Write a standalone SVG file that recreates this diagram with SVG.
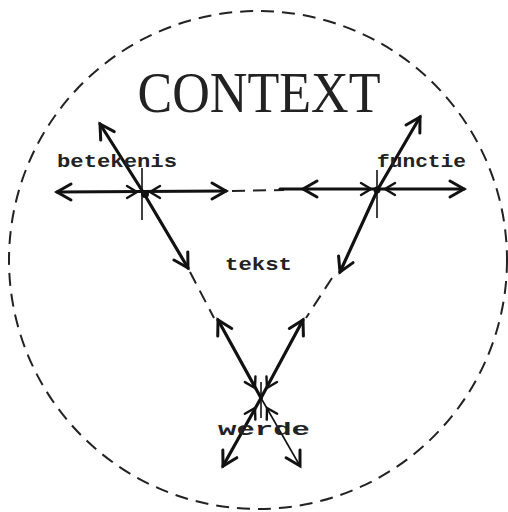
<svg xmlns="http://www.w3.org/2000/svg" xmlns:xlink="http://www.w3.org/1999/xlink" width="508" height="512" viewBox="0 0 508 512">
<style>
.ln{stroke:#111;stroke-width:3.2;fill:none;stroke-linecap:round}
.thin{stroke:#111;stroke-width:1.6;fill:none}
.dash{stroke:#222;stroke-width:2;fill:none;stroke-dasharray:13 8}
.lbl{font-family:"Liberation Mono",monospace;font-weight:bold;fill:#222;font-size:19px}
</style>
<defs>
<path id="ah" d="M-14,-8 L0,0 L-14,8" stroke="#111" stroke-width="3" fill="none" stroke-linecap="round" stroke-linejoin="miter"/>
<path id="ahs" d="M-10,-6 L0,0 L-10,6" stroke="#111" stroke-width="2.4" fill="none" stroke-linecap="round"/>
</defs>
<rect width="508" height="512" fill="#fff"/>
<circle cx="258" cy="260" r="249" class="dash"/>
<text x="259" y="112" text-anchor="middle" font-family="'Liberation Serif',serif" font-size="56" textLength="243" lengthAdjust="spacingAndGlyphs" fill="#222">CONTEXT</text>

<g id="connectors">
<line x1="232" y1="191" x2="284" y2="190" class="dash"/>
<line x1="190" y1="272" x2="214" y2="318" class="dash"/>
<line x1="332" y1="278" x2="306" y2="318" class="dash"/>
</g>

<g id="betekenis">
<line x1="57" y1="192" x2="226" y2="191" class="ln"/>
<line x1="143" y1="192" x2="100" y2="124" class="ln"/>
<line x1="143" y1="192" x2="188" y2="268" class="ln"/>
<line x1="142" y1="168" x2="142" y2="220" class="thin"/>
<circle cx="145" cy="194" r="4" fill="#111"/>
<use xlink:href="#ah" transform="translate(57,192) rotate(180)"/>
<use xlink:href="#ahs" transform="translate(137,192)"/>
<use xlink:href="#ahs" transform="translate(150,192) rotate(180)"/>
<use xlink:href="#ah" transform="translate(226,191)"/>
<use xlink:href="#ah" transform="translate(100,124) rotate(-122.3)"/>
<use xlink:href="#ah" transform="translate(188,268) rotate(59.4)"/>
<text class="lbl" x="57" y="167" textLength="120" lengthAdjust="spacingAndGlyphs">betekenis</text>
</g>

<g id="functie">
<line x1="280" y1="189" x2="464" y2="189" class="ln"/>
<line x1="378" y1="189" x2="420" y2="117" class="ln"/>
<line x1="378" y1="189" x2="340" y2="272" class="ln"/>
<line x1="377" y1="170" x2="377" y2="218" class="thin"/>
<circle cx="377" cy="190" r="3.5" fill="#111"/>
<use xlink:href="#ah" transform="translate(303,189) rotate(180)"/>
<use xlink:href="#ahs" transform="translate(371,189)"/>
<use xlink:href="#ahs" transform="translate(385,189) rotate(180)"/>
<use xlink:href="#ah" transform="translate(464,189)"/>
<use xlink:href="#ah" transform="translate(420,117) rotate(-59.7)"/>
<use xlink:href="#ah" transform="translate(340,272) rotate(114.6)"/>
<text class="lbl" x="377" y="167" textLength="89" lengthAdjust="spacingAndGlyphs">functie</text>
</g>

<g id="tekst">
<text class="lbl" x="225" y="270" textLength="67" lengthAdjust="spacingAndGlyphs">tekst</text>
</g>

<g id="werde">
<line x1="261" y1="398" x2="218" y2="320" class="ln"/>
<line x1="261" y1="398" x2="303" y2="320" class="ln" stroke-width="2.6"/>
<line x1="261" y1="398" x2="223" y2="466" class="ln"/>
<line x1="261" y1="398" x2="300" y2="466" class="thin"/>
<line x1="261" y1="382" x2="261" y2="418" class="thin"/>
<use xlink:href="#ah" transform="translate(218,320) rotate(-118.8)"/>
<use xlink:href="#ah" transform="translate(303,320) rotate(-61.7)"/>
<use xlink:href="#ah" transform="translate(223,466) rotate(119.2)"/>
<use xlink:href="#ah" transform="translate(300,466) rotate(60.2)"/>
<use xlink:href="#ahs" transform="translate(255,388) rotate(61.2)"/>
<use xlink:href="#ahs" transform="translate(267,388) rotate(118.3)"/>
<use xlink:href="#ahs" transform="translate(255,408) rotate(-60.8)"/>
<use xlink:href="#ahs" transform="translate(267,408) rotate(-119.8)"/>
<text class="lbl" x="218" y="435" font-size="21" textLength="92" lengthAdjust="spacingAndGlyphs">werde</text>
</g>
</svg>
